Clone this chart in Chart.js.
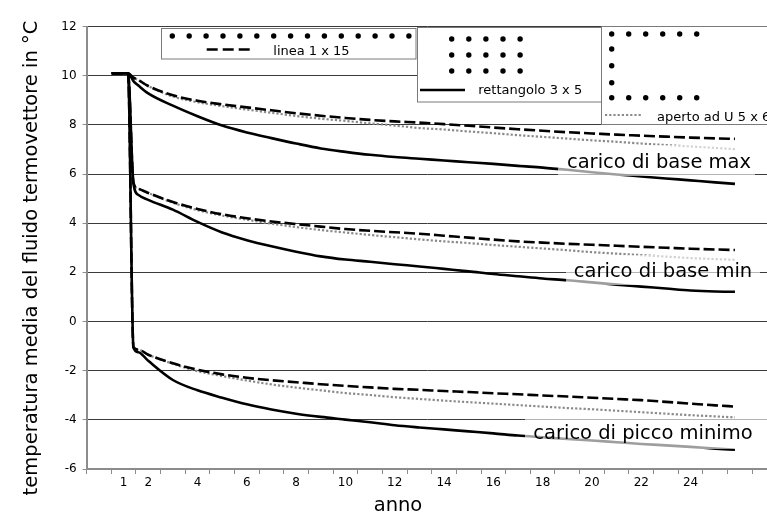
<!DOCTYPE html>
<html>
<head>
<meta charset="utf-8">
<script src="https://cdn.jsdelivr.net/npm/chart.js@4.4.1/dist/chart.umd.min.js"></script>
<style>
  html, body { margin: 0; padding: 0; background: #fff; overflow: hidden; }
  canvas { display: block; }
</style>
</head>
<body>
<canvas id="c" width="767" height="523"></canvas>
<script>
// Anni di esercizio (asse x)
const years = [0.52, 1.18, 1.4, 1.6, 2, 3, 4, 5, 6, 7, 8, 9, 10, 11, 12, 13, 14, 15, 16, 17, 18, 19, 20, 21, 22, 23, 24, 25, 25.8];
const xTickLabels = [1, 2, 4, 6, 8, 10, 12, 14, 16, 18, 20, 22, 24];

// carico di base max
const baseMaxLinea = [10.1, 10.1, 9.92, 9.82, 9.58, 9.2, 8.98, 8.83, 8.71, 8.59, 8.47, 8.37, 8.28, 8.2, 8.14, 8.09, 8.03, 7.96, 7.89, 7.82, 7.76, 7.7, 7.65, 7.6, 7.56, 7.52, 7.48, 7.45, 7.43];
const baseMaxRett  = [10.1, 10.1, 9.78, 9.6, 9.28, 8.78, 8.35, 7.97, 7.69, 7.46, 7.24, 7.04, 6.9, 6.78, 6.69, 6.62, 6.55, 6.48, 6.41, 6.33, 6.26, 6.17, 6.07, 5.98, 5.9, 5.82, 5.74, 5.66, 5.6];
const baseMaxU     = [10.1, 10.1, 9.92, 9.82, 9.58, 9.15, 8.92, 8.76, 8.62, 8.49, 8.36, 8.25, 8.16, 8.06, 7.97, 7.87, 7.81, 7.73, 7.66, 7.58, 7.51, 7.44, 7.37, 7.31, 7.24, 7.18, 7.12, 7.06, 7.01];

// carico di base min
const baseMinLinea = [10.1, 10.1, 5.65, 5.4, 5.23, 4.86, 4.58, 4.36, 4.2, 4.07, 3.96, 3.86, 3.76, 3.69, 3.63, 3.57, 3.49, 3.41, 3.33, 3.26, 3.21, 3.16, 3.12, 3.08, 3.04, 3.0, 2.96, 2.93, 2.91];
const baseMinRett  = [10.1, 10.1, 5.62, 5.15, 4.95, 4.55, 4.05, 3.62, 3.31, 3.06, 2.84, 2.65, 2.52, 2.43, 2.33, 2.24, 2.14, 2.04, 1.93, 1.84, 1.75, 1.68, 1.59, 1.5, 1.42, 1.34, 1.26, 1.22, 1.21];
const baseMinU     = [10.1, 10.1, 5.65, 5.4, 5.23, 4.83, 4.53, 4.31, 4.14, 3.98, 3.84, 3.72, 3.62, 3.52, 3.43, 3.34, 3.26, 3.19, 3.11, 3.04, 2.97, 2.9, 2.82, 2.76, 2.7, 2.64, 2.58, 2.54, 2.51];

// carico di picco minimo
const piccoMinLinea = [10.1, 10.1, -1.05, -1.15, -1.35, -1.7, -1.96, -2.15, -2.29, -2.39, -2.47, -2.55, -2.62, -2.68, -2.74, -2.78, -2.83, -2.87, -2.92, -2.96, -3.01, -3.05, -3.1, -3.15, -3.2, -3.27, -3.34, -3.41, -3.46];
const piccoMinRett  = [10.1, 10.1, -1.05, -1.25, -1.6, -2.38, -2.8, -3.1, -3.37, -3.58, -3.75, -3.88, -3.99, -4.1, -4.22, -4.31, -4.39, -4.47, -4.55, -4.64, -4.71, -4.78, -4.84, -4.91, -4.98, -5.04, -5.1, -5.17, -5.22];
const piccoMinU     = [10.1, 10.1, -1.05, -1.15, -1.35, -1.72, -2.02, -2.22, -2.4, -2.56, -2.69, -2.8, -2.91, -2.99, -3.08, -3.15, -3.22, -3.28, -3.34, -3.4, -3.46, -3.52, -3.57, -3.63, -3.69, -3.75, -3.81, -3.86, -3.9];

const FONT = '"DejaVu Sans", Verdana, sans-serif';

const lineStyles = {
  rett:  { borderColor: '#000000', borderWidth: 2.6, borderDash: [] },
  linea: { borderColor: '#000000', borderWidth: 2.6, borderDash: [11, 4] },
  u:     { borderColor: '#8a8a8a', borderWidth: 2.2, borderDash: [2.2, 2] }
};

function series(values, kind) {
  return Object.assign({
    data: years.map((x, i) => ({ x: x, y: values[i] })),
    fill: false,
    pointRadius: 0
  }, lineStyles[kind]);
}

// first dataset is drawn on top: solid lines above dashed above dotted
const datasets = [
  series(baseMaxRett, 'rett'), series(baseMinRett, 'rett'), series(piccoMinRett, 'rett'),
  series(baseMaxLinea, 'linea'), series(baseMinLinea, 'linea'), series(piccoMinLinea, 'linea'),
  series(baseMaxU, 'u'), series(baseMinU, 'u'), series(piccoMinU, 'u')
];

function dot(c, x, y) {
  c.beginPath(); c.arc(x, y, 2.7, 0, Math.PI * 2); c.fill();
}

const decor = {
  id: 'decor',
  beforeDraw(chart) {
    const c = chart.ctx;
    c.save(); c.fillStyle = '#ffffff'; c.fillRect(0, 0, chart.width, chart.height); c.restore();
  },
  afterDatasetsDraw(chart) {
    // curve names on translucent white boxes
    const c = chart.ctx;
    const tags = [
      { text: 'carico di base max', cx: 659, base: 167.5, box: [558, 145, 197, 31] },
      { text: 'carico di base min', cx: 663, base: 276.5, box: [566, 255, 194, 30] },
      { text: 'carico di picco minimo', cx: 643, base: 438.5, box: [525, 419, 250, 30] }
    ];
    c.save();
    tags.forEach(t => {
      c.fillStyle = 'rgba(255,255,255,0.62)';
      c.fillRect(t.box[0], t.box[1], t.box[2], t.box[3]);
      c.fillStyle = '#000';
      c.font = '19.5px ' + FONT;
      c.textAlign = 'center';
      c.textBaseline = 'alphabetic';
      c.fillText(t.text, t.cx, t.base);
    });
    c.restore();
  },
  afterDraw(chart) {
    const c = chart.ctx;
    c.save();
    // axis titles
    c.fillStyle = '#000';
    c.font = '19.5px ' + FONT;
    c.textAlign = 'center';
    c.textBaseline = 'alphabetic';
    c.fillText('anno', 398, 511);
    c.save();
    c.translate(37, 258);
    c.rotate(-Math.PI / 2);
    c.fillText('temperatura media del fluido termovettore in °C', 0, 0);
    c.restore();

    // legend panels
    c.lineWidth = 1;
    c.strokeStyle = '#7a7a7a';
    c.fillStyle = '#ffffff';
    c.fillRect(161, 27.7, 255, 31.6); c.strokeRect(161.5, 28.5, 254.5, 30.5);
    c.fillRect(417, 27.7, 185, 74.6); c.strokeRect(417.5, 27.5, 184, 74.5);
    c.fillRect(601.5, 26.5, 200, 98); c.strokeRect(601.5, 26.5, 200, 98);

    c.fillStyle = '#000';
    // linea 1 x 15
    for (let i = 0; i < 15; i++) dot(c, 172.3 + i * 16.9, 36);
    // rettangolo 3 x 5
    for (let r = 0; r < 3; r++) for (let j = 0; j < 5; j++) dot(c, 451.7 + j * 17.1, 39 + r * 16);
    // aperto ad U 5 x 6
    for (let j = 0; j < 6; j++) { dot(c, 611.7 + j * 17, 34); dot(c, 611.7 + j * 17, 97.7); }
    [49, 65.7, 82.7].forEach(y => dot(c, 611.7, y));

    // legend line samples
    c.lineWidth = 2.6;
    c.strokeStyle = '#000';
    c.setLineDash([11, 5]);
    c.beginPath(); c.moveTo(206.7, 49.5); c.lineTo(250, 49.5); c.stroke();
    c.setLineDash([]);
    c.beginPath(); c.moveTo(420, 90); c.lineTo(465, 90); c.stroke();
    c.lineWidth = 2;
    c.strokeStyle = '#8a8a8a';
    c.setLineDash([2.2, 2]);
    c.beginPath(); c.moveTo(605, 115); c.lineTo(641, 115); c.stroke();
    c.setLineDash([]);

    c.fillStyle = '#000';
    c.font = '13px ' + FONT;
    c.textAlign = 'left';
    c.textBaseline = 'alphabetic';
    c.fillText('linea 1 x 15', 273.3, 55);
    c.fillText('rettangolo 3 x 5', 478.3, 94);
    c.fillText('aperto ad U 5 x 6', 657, 121);
    c.restore();
  }
};

new Chart(document.getElementById('c'), {
  type: 'line',
  data: { datasets: datasets },
  options: {
    responsive: false,
    animation: false,
    devicePixelRatio: 1,
    layout: { padding: { top: 26.5, left: 0, right: 0, bottom: 0 } },
    plugins: { legend: { display: false }, tooltip: { enabled: false } },
    elements: {
      point: { radius: 0 },
      line: { cubicInterpolationMode: 'monotone', borderCapStyle: 'butt', borderJoinStyle: 'round' }
    },
    scales: {
      x: {
        type: 'linear',
        min: -0.5,
        max: 27.1,
        afterBuildTicks: axis => {
          const t = [];
          for (let v = -0.5; v <= 26.5; v += 0.5) t.push({ value: v });
          axis.ticks = t;
        },
        afterFit: s => { s.height = 54; },
        grid: {
          drawOnChartArea: false,
          drawTicks: true,
          tickLength: 5,
          tickWidth: 1,
          tickColor: ctx => (ctx.tick && Math.abs(ctx.tick.value % 1) === 0.5) ? '#8c8c8c' : 'rgba(0,0,0,0)'
        },
        border: { color: '#8c8c8c', width: 2 },
        ticks: {
          autoSkip: false,
          maxRotation: 0,
          minRotation: 0,
          padding: 2,
          color: '#000',
          font: { family: FONT, size: 12 },
          callback: v => xTickLabels.includes(v) ? String(v) : ''
        }
      },
      y: {
        min: -6,
        max: 12,
        afterFit: s => { s.width = 86.6; },
        ticks: { stepSize: 2, padding: 6, color: '#000', font: { family: FONT, size: 12 } },
        grid: {
          color: ctx => (ctx.tick && ctx.tick.value === -6) ? 'rgba(0,0,0,0)' : '#3a3a3a',
          lineWidth: 1,
          tickLength: 4,
          tickColor: '#8c8c8c'
        },
        border: { color: '#8c8c8c', width: 2 }
      }
    }
  },
  plugins: [decor]
});
</script>
</body>
</html>
